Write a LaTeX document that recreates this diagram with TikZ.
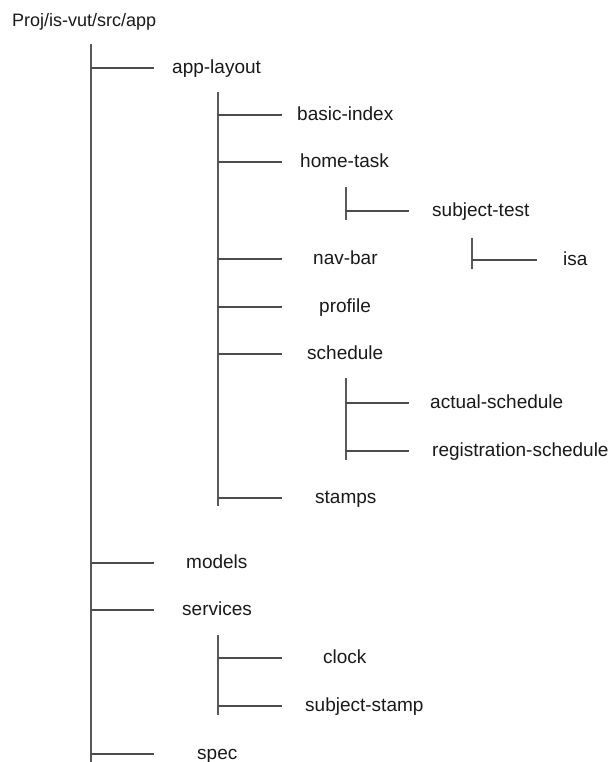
\documentclass[tikz,border=0pt]{standalone}
\usepackage{fontspec}
\setmainfont{Liberation Sans}
\begin{document}
\begin{tikzpicture}[x=1pt,y=-1pt,
  lbl/.style={anchor=west,inner sep=0pt,text height=11.6pt,text depth=0pt,font=\fontsize{19}{22}\selectfont,text=black!90},
  ttl/.style={anchor=west,inner sep=0pt,text height=11pt,text depth=0pt,font=\fontsize{18}{21}\selectfont,text=black!90},
  trunk/.style={draw=black!65,line width=1.6pt},
  branch/.style={draw=black!70,line width=1.3pt}]
\useasboundingbox (0,0) rectangle (611,762);
% labels
\node[ttl] (root) at (12,21) {Proj/is-vut/src/app};
\node[lbl] (applayout) at (172,68) {app-layout};
\node[lbl] (basic) at (297,115) {basic-index};
\node[lbl] (home) at (300,162) {home-task};
\node[lbl] (subj) at (432,211) {subject-test};
\node[lbl] (nav) at (313,259) {nav-bar};
\node[lbl] (isa) at (563,260) {isa};
\node[lbl] (profile) at (319,307) {profile};
\node[lbl] (sched) at (307,354) {schedule};
\node[lbl] (actual) at (430,403) {actual-schedule};
\node[lbl] (reg) at (432,451) {registration-schedule};
\node[lbl] (stamps) at (315,498) {stamps};
\node[lbl] (models) at (186,563) {models};
\node[lbl] (services) at (182,610) {services};
\node[lbl] (clock) at (323,658) {clock};
\node[lbl] (sstamp) at (305,706) {subject-stamp};
\node[lbl] (spec) at (197,754) {spec};
% trunk coordinates
\coordinate (t0a) at (91,44);  \coordinate (t0b) at (91,762); \coordinate (e0) at (154,0);
\coordinate (t1a) at (218,92); \coordinate (t1b) at (218,506); \coordinate (e1) at (282,0);
\coordinate (t2a) at (346,187); \coordinate (t2b) at (346,220); \coordinate (e2) at (409,0);
\coordinate (t3a) at (472,238); \coordinate (t3b) at (472,269); \coordinate (e3) at (537,0);
\coordinate (t4a) at (346,378); \coordinate (t4b) at (346,460);
\coordinate (t5a) at (218,635); \coordinate (t5b) at (218,715);
% trunks
\draw[trunk] (t0a) -- (t0b);
\draw[trunk] (t1a) -- (t1b);
\draw[trunk] (t2a) -- (t2b);
\draw[trunk] (t3a) -- (t3b);
\draw[trunk] (t4a) -- (t4b);
\draw[trunk] (t5a) -- (t5b);
% branches
\foreach \n in {applayout,models,services,spec} \draw[branch] (t0a |- \n.west) -- (e0 |- \n.west);
\foreach \n in {basic,home,nav,profile,sched,stamps} \draw[branch] (t1a |- \n.west) -- (e1 |- \n.west);
\draw[branch] (t2a |- subj.west) -- (e2 |- subj.west);
\draw[branch] (t3a |- isa.west) -- (e3 |- isa.west);
\foreach \n in {actual,reg} \draw[branch] (t4a |- \n.west) -- (e2 |- \n.west);
\foreach \n in {clock,sstamp} \draw[branch] (t5a |- \n.west) -- (e1 |- \n.west);
\end{tikzpicture}
\end{document}
